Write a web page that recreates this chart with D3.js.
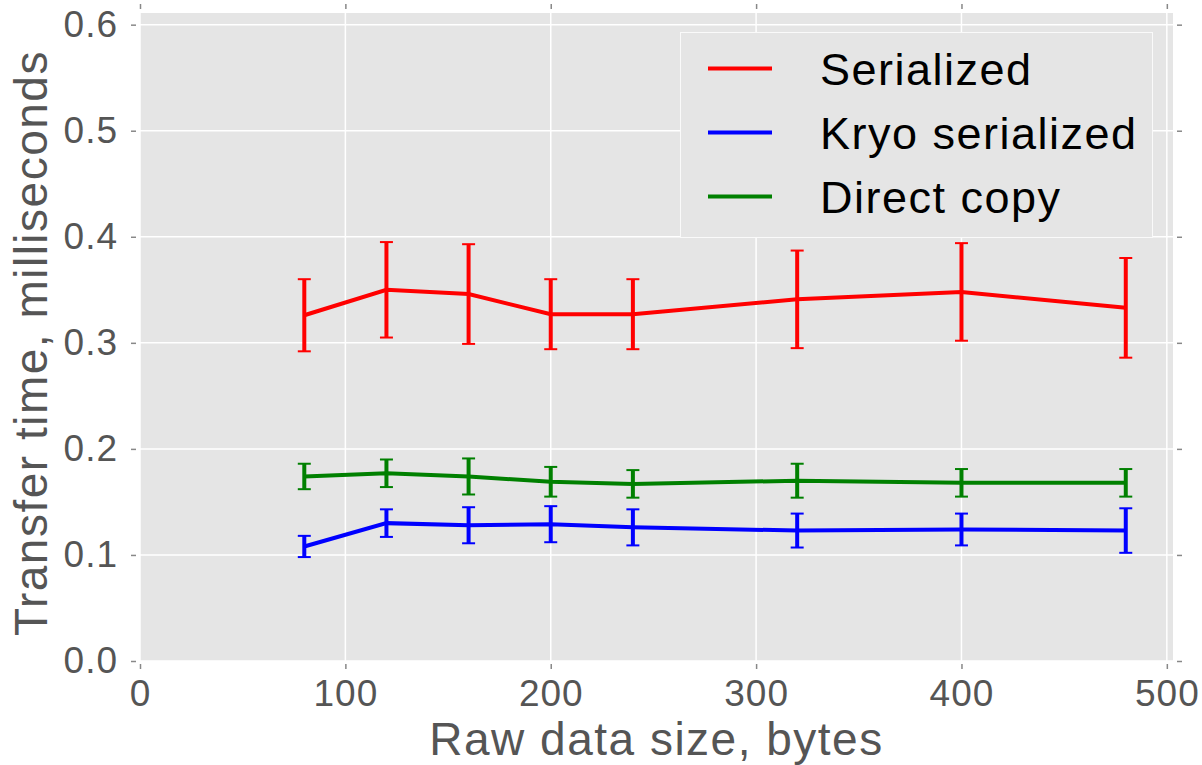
<!DOCTYPE html>
<html>
<head>
<meta charset="utf-8">
<script src="https://cdn.jsdelivr.net/npm/d3@7"></script>
<style>
  body { margin: 0; background: #fff; }
  svg text { font-family: "Liberation Sans", Arial, sans-serif; }
</style>
</head>
<body>
<svg id="chart" width="1202" height="765"></svg>
<script>
// data sizes (bytes)
const sizes = [80, 120, 160, 200, 240, 320, 400, 480];

// mean transfer times, ms
const serialized = [0.326, 0.350, 0.346, 0.327, 0.327, 0.341, 0.348, 0.333];
const kryo = [0.108, 0.130, 0.128, 0.129, 0.126, 0.123, 0.124, 0.123];
const direct = [0.174, 0.177, 0.174, 0.169, 0.167, 0.170, 0.168, 0.168];

// error bar half-widths
const serializedErr = [0.034, 0.045, 0.047, 0.033, 0.033, 0.046, 0.046, 0.047];
const kryoErr = [0.010, 0.013, 0.017, 0.017, 0.017, 0.016, 0.015, 0.021];
const directErr = [0.012, 0.013, 0.017, 0.014, 0.013, 0.016, 0.013, 0.013];

const seriesNames = ["Serialized", "Kryo serialized", "Direct copy"];
const seriesColors = ["#ff0000", "#0000ff", "#008000"];

const xTicks = [0, 100, 200, 300, 400, 500];
const yTicks = [0.0, 0.1, 0.2, 0.3, 0.4, 0.5, 0.6];

const svg = d3.select("#chart");
const plotL = 140, plotR = 1173, plotT = 13, plotB = 661;

const x = d3.scaleLinear().domain([0, 503]).range([plotL, plotR]);
const y = d3.scaleLinear().domain([0, 0.611]).range([plotB, plotT]);

// background
svg.append("rect")
  .attr("x", plotL).attr("y", plotT)
  .attr("width", plotR - plotL).attr("height", plotB - plotT)
  .attr("fill", "#e5e5e5");

// grid
svg.append("g").selectAll("line").data(xTicks).enter().append("line")
  .attr("x1", d => x(d)).attr("x2", d => x(d))
  .attr("y1", plotT).attr("y2", plotB)
  .attr("stroke", "#fff").attr("stroke-width", 1.5);
svg.append("g").selectAll("line").data(yTicks).enter().append("line")
  .attr("x1", plotL).attr("x2", plotR)
  .attr("y1", d => y(d)).attr("y2", d => y(d))
  .attr("stroke", "#fff").attr("stroke-width", 1.5);

// axes (ticks outside, detached from frame)
function styleAxis(g) {
  g.select(".domain").remove();
  g.selectAll(".tick line").attr("stroke", "#888").attr("stroke-width", 1.5);
  g.selectAll(".tick text")
    .attr("fill", "#555")
    .style("font-size", "37px")
    .style("letter-spacing", "1px");
}

svg.append("g")
  .attr("transform", "translate(0," + 664 + ")")
  .call(d3.axisBottom(x).tickValues(xTicks).tickSize(5).tickPadding(11).tickFormat(d3.format("d")))
  .call(styleAxis);

svg.append("g")
  .attr("transform", "translate(" + 136 + ",0)")
  .call(d3.axisLeft(y).tickValues(yTicks).tickSize(5).tickPadding(13).tickFormat(d3.format(".1f")))
  .call(styleAxis);

svg.append("g")
  .attr("transform", "translate(0," + 9 + ")")
  .call(d3.axisTop(x).tickValues(xTicks).tickSize(5).tickFormat(""))
  .call(styleAxis);

svg.append("g")
  .attr("transform", "translate(" + 1177 + ",0)")
  .call(d3.axisRight(y).tickValues(yTicks).tickSize(5).tickFormat(""))
  .call(styleAxis);

// axis labels
svg.append("text")
  .attr("x", (plotL + plotR) / 2).attr("y", 755)
  .attr("text-anchor", "middle")
  .attr("fill", "#555")
  .style("font-size", "46px").style("letter-spacing", "1.5px")
  .text("Raw data size, bytes");

svg.append("text")
  .attr("transform", "translate(47," + 343 + ") rotate(-90)")
  .attr("text-anchor", "middle")
  .attr("fill", "#555")
  .style("font-size", "46px").style("letter-spacing", "1.5px")
  .text("Transfer time, milliseconds");

// series
const allSeries = [
  { name: seriesNames[0], color: seriesColors[0], vals: serialized, errs: serializedErr },
  { name: seriesNames[1], color: seriesColors[1], vals: kryo, errs: kryoErr },
  { name: seriesNames[2], color: seriesColors[2], vals: direct, errs: directErr }
];

const line = d3.line().x(d => x(d[0])).y(d => y(d[1]));

allSeries.forEach(function (s) {
  const pts = sizes.map((sz, i) => [sz, s.vals[i], s.errs[i]]);
  const g = svg.append("g");

  g.append("path")
    .datum(pts)
    .attr("d", line)
    .attr("fill", "none")
    .attr("stroke", s.color)
    .attr("stroke-width", 4);

  const eb = g.selectAll(".eb").data(pts).enter().append("g").attr("class", "eb");
  eb.append("line")
    .attr("x1", d => x(d[0])).attr("x2", d => x(d[0]))
    .attr("y1", d => y(d[1] - d[2])).attr("y2", d => y(d[1] + d[2]))
    .attr("stroke", s.color).attr("stroke-width", 4);
  eb.append("line")
    .attr("x1", d => x(d[0]) - 6.5).attr("x2", d => x(d[0]) + 6.5)
    .attr("y1", d => y(d[1] + d[2])).attr("y2", d => y(d[1] + d[2]))
    .attr("stroke", s.color).attr("stroke-width", 2);
  eb.append("line")
    .attr("x1", d => x(d[0]) - 6.5).attr("x2", d => x(d[0]) + 6.5)
    .attr("y1", d => y(d[1] - d[2])).attr("y2", d => y(d[1] - d[2]))
    .attr("stroke", s.color).attr("stroke-width", 2);
});

// legend
const legend = svg.append("g");
legend.append("rect")
  .attr("x", 680.5).attr("y", 32.5)
  .attr("width", 472).attr("height", 205)
  .attr("fill", "#e5e5e5")
  .attr("stroke", "#fafafa").attr("stroke-width", 1);

const legendRow = d3.scaleLinear().domain([0, 2]).range([68.5, 196.5]);

const items = legend.selectAll(".item").data(allSeries).enter().append("g").attr("class", "item");
items.append("line")
  .attr("x1", 708).attr("x2", 772)
  .attr("y1", (d, i) => legendRow(i)).attr("y2", (d, i) => legendRow(i))
  .attr("stroke", d => d.color).attr("stroke-width", 4);
items.append("text")
  .attr("x", 820).attr("y", (d, i) => legendRow(i) + 16.5)
  .attr("fill", "#000")
  .style("font-size", "45px").style("letter-spacing", "1.5px")
  .text(d => d.name);
</script>
</body>
</html>
